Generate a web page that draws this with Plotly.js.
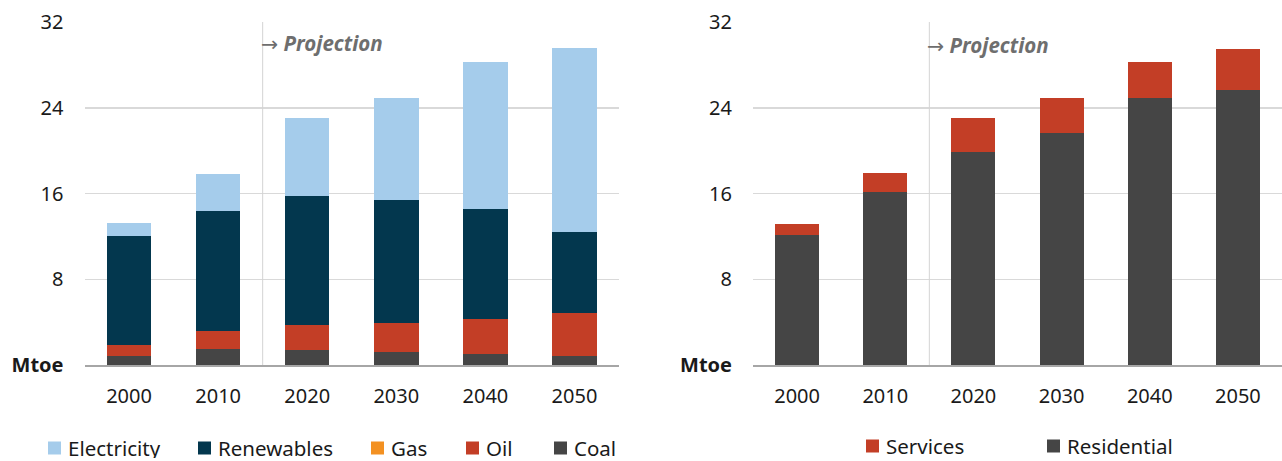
<!DOCTYPE html>
<html>
<head>
<meta charset="utf-8">
<script src="https://cdn.plot.ly/plotly-3.0.1.min.js"></script>
<style>
  html, body { margin: 0; padding: 0; background: #fff; }
  #chart { width: 1282px; height: 461px; }
</style>
</head>
<body>
<div id="chart"></div>
<script>
// ---- Data ----
const years = ['2000', '2010', '2020', '2030', '2040', '2050'];

// Left chart: energy by source (Mtoe), stacked bottom -> top
const coal        = [0.87, 1.52, 1.43, 1.24, 1.06, 0.85];
const oil         = [1.02, 1.62, 2.30, 2.67, 3.26, 4.00];
const gas         = [0, 0, 0, 0, 0, 0];
const renewables  = [10.19, 11.27, 12.02, 11.46, 10.21, 7.59];
const electricity = [1.15, 3.45, 7.29, 9.53, 13.76, 17.09];

// Right chart: energy by sector (Mtoe)
const residential = [12.1, 16.1, 19.9, 21.6, 24.9, 25.7];
const services    = [1.1, 1.8, 3.1, 3.3, 3.4, 3.8];

const yTickVals  = [0, 8, 16, 24, 32];
const yTickText  = ['<b>Mtoe</b>', '8', '16', '24', '32'];
const projectionLabel = 'Projection';

const leftNames  = ['Electricity', 'Renewables', 'Gas', 'Oil', 'Coal'];
const rightNames = ['Services', 'Residential'];

// ---- Styles ----
const C = {
  electricity: '#A5CCEB',
  renewables: '#03374E',
  gas: '#F39122',
  oil: '#C33E26',
  coal: '#454545',
  services: '#C33E26',
  residential: '#454545'
};
const FONT = '"Noto Sans", "Open Sans", Arial, sans-serif';
const W = 1282, H = 461, MT = 22, MB = 96;
const PH = H - MT - MB;
const px = x => x / W;
const py = y => (H - MB - y) / PH;

function bar(name, y, color, xa, ya) {
  return { type: 'bar', name: name, x: years, y: y, xaxis: xa, yaxis: ya,
           marker: { color: color }, showlegend: false, hoverinfo: 'x+y+name' };
}

const traces = [
  bar('Coal', coal, C.coal, 'x', 'y'),
  bar('Oil', oil, C.oil, 'x', 'y'),
  bar('Gas', gas, C.gas, 'x', 'y'),
  bar('Renewables', renewables, C.renewables, 'x', 'y'),
  bar('Electricity', electricity, C.electricity, 'x', 'y'),
  bar('Residential', residential, C.residential, 'x2', 'y2'),
  bar('Services', services, C.services, 'x2', 'y2')
];

const xaxisBase = {
  type: 'category', showgrid: false, zeroline: false,
  showline: true, linecolor: '#a6a6a6', linewidth: 1.5,
  ticks: '', ticklabelstandoff: 12,
  tickfont: { family: FONT, size: 20, color: '#1a1a1a' },
  fixedrange: true
};
const yaxisBase = {
  range: [0, 32], tickvals: yTickVals, ticktext: yTickText,
  showgrid: true, gridcolor: '#d9d9d9', gridwidth: 1.5,
  zeroline: false, showline: false, ticks: '', ticklabelstandoff: 20,
  tickfont: { family: FONT, size: 20, color: '#1a1a1a' },
  fixedrange: true
};

const shapes = [
  { type: 'line', xref: 'x', yref: 'y', x0: 1.5, x1: 1.5, y0: 0, y1: 32,
    line: { color: '#d4d4d4', width: 1 } },
  { type: 'line', xref: 'x2', yref: 'y2', x0: 1.5, x1: 1.5, y0: 0, y1: 32,
    line: { color: '#d4d4d4', width: 1 } }
];

const projText = '<span style="font-family:\'DejaVu Sans\';font-weight:normal">→</span> <b><i>' + projectionLabel + '</i></b>';
const annotations = [
  { xref: 'x', yref: 'paper', x: 1.5, y: py(43), xanchor: 'left', yanchor: 'middle',
    xshift: -4, text: projText, showarrow: false,
    font: { family: FONT, size: 20.5, color: '#6e6e6e' } },
  { xref: 'x2', yref: 'paper', x: 1.5, y: py(45), xanchor: 'left', yanchor: 'middle',
    xshift: -4, text: projText, showarrow: false,
    font: { family: FONT, size: 20.5, color: '#6e6e6e' } }
];

// Manual legends
const leftColors = [C.electricity, C.renewables, C.gas, C.oil, C.coal];
const leftSwatchX = [48, 198, 371, 466, 554];
const rightColors = [C.services, C.residential];
const rightSwatchX = [866, 1047];

function addLegend(names, colors, xs, yc) {
  names.forEach((n, i) => {
    shapes.push({ type: 'rect', xref: 'paper', yref: 'paper',
      x0: px(xs[i]), x1: px(xs[i] + 13), y0: py(yc + 6.5), y1: py(yc - 6.5),
      fillcolor: colors[i], line: { width: 0 } });
    annotations.push({ xref: 'paper', yref: 'paper', x: px(xs[i] + 18), y: py(yc),
      xanchor: 'left', yanchor: 'middle', showarrow: false, text: n,
      height: 20, valign: 'middle',
      font: { family: FONT, size: 20.5, color: '#1a1a1a' } });
  });
}
addLegend(leftNames, leftColors, leftSwatchX, 448);
addLegend(rightNames, rightColors, rightSwatchX, 446);

const layout = {
  width: W, height: H,
  margin: { l: 0, r: 0, t: MT, b: MB, pad: 0 },
  paper_bgcolor: '#ffffff', plot_bgcolor: '#ffffff',
  barmode: 'stack', bargap: 0.5,
  showlegend: false,
  xaxis: Object.assign({}, xaxisBase, { domain: [px(84.5), px(619)], anchor: 'y' }),
  yaxis: Object.assign({}, yaxisBase, { anchor: 'x' }),
  xaxis2: Object.assign({}, xaxisBase, { domain: [px(753), 1], anchor: 'y2' }),
  yaxis2: Object.assign({}, yaxisBase, { anchor: 'x2' }),
  shapes: shapes,
  annotations: annotations
};

Plotly.newPlot('chart', traces, layout, { displayModeBar: false, staticPlot: true });
</script>
</body>
</html>
